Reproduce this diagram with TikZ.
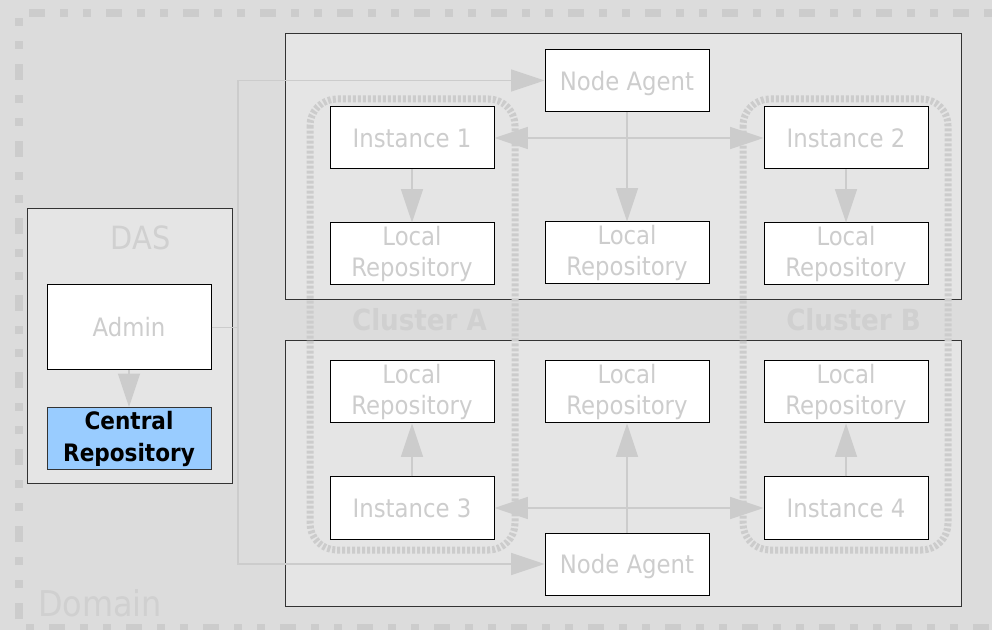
\documentclass[tikz,border=0pt]{standalone}
\usepackage{fontspec}
\setmainfont{DejaVuSansCondensed}[Extension=.ttf, BoldFont=DejaVuSansCondensed-Bold]
\usetikzlibrary{arrows.meta, positioning}
\definecolor{outergray}{HTML}{DCDCDC}
\definecolor{innergray}{HTML}{E5E5E5}
\definecolor{textgray}{HTML}{CDCDCD}
\definecolor{labelgray}{HTML}{D0D0D0}
\definecolor{linegray}{HTML}{CCCCCC}
\definecolor{framegray}{HTML}{333333}
\definecolor{repoblue}{HTML}{99CCFF}
\tikzstyle{box} = [draw=black, line width=0.75pt, fill=white, minimum width=123pt, minimum height=46.5pt, inner sep=0pt, align=center, text=textgray, font=\fontsize{19}{23.25}\selectfont]
\tikzstyle{machine} = [draw=framegray, line width=0.75pt, fill=innergray, inner sep=0pt]
\tikzstyle{cluster} = [draw=linegray, line width=5.25pt, dash pattern=on 2.25pt off 1.5pt, rounded corners=20pt]
\tikzstyle{arrow} = [draw=linegray, line width=1pt, -{Triangle[length=25pt,width=16.5pt,fill=linegray]}]
\tikzstyle{biarrow} = [draw=linegray, line width=1pt, {Triangle[length=25pt,width=16.5pt,fill=linegray]}-{Triangle[length=25pt,width=16.5pt,fill=linegray]}]
\tikzstyle{bigtext} = [text=labelgray, inner sep=0pt]

\begin{document}
\begin{tikzpicture}[x=0.75pt, y=-0.75pt]
        \useasboundingbox (0,0) rectangle (992,630);
        \clip (0,0) rectangle (992,630);
        \fill[outergray] (0,0) rectangle (992,630);

        % Domain
        \draw[linegray, line width=6pt, dash pattern=on 12pt off 11.25pt on 6pt off 11.25pt on 6pt off 11.25pt, dash phase=51pt] (19,628) rectangle (1010,13);
        \node[bigtext, anchor=west, font=\fontsize{26.6}{30}\selectfont] (domain) at (38,603.5) {Domain};

        % Machines
        \node[machine, minimum width=153.75pt, minimum height=206.25pt] (das) at (129.5,346.5) {};
        \node[bigtext, font=\fontsize{24}{28}\selectfont] (daslabel) at (140.5,238) {DAS};
        \node[machine, minimum width=507pt, minimum height=199.5pt] (hosta) at (623,167) {};
        \node[machine, minimum width=507pt, minimum height=198.75pt] (hostb) at (623,473.5) {};

        % Clusters
        \draw[cluster] (310,99) rectangle (515,550);
        \draw[cluster] (743,99) rectangle (948,550);
        \node[bigtext, font=\bfseries\fontsize{21.8}{26}\selectfont] (clustera) at (419.5,319.5) {Cluster A};
        \node[bigtext, font=\bfseries\fontsize{21.8}{26}\selectfont] (clusterb) at (853.5,319.5) {Cluster B};

        % DAS content
        \node[box, minimum height=63.75pt] (admin) at (129,327.5) {Admin};
        \node[box, draw=framegray, fill=repoblue, text=black, font=\bfseries\fontsize{18}{24}\selectfont] (central) at (129,438.5) {Central\\Repository};

        % Upper host
        \node[box, text depth=0pt] (na1) at (627,80.5) {Node Agent};
        \node[box] (inst1) at (412,138) {Instance 1};
        \node[box, below=39.75pt of inst1] (lr1) {Local\\Repository};
        \node[box] (inst2) at (846,138) {Instance 2};
        \node[box, below=39.75pt of inst2] (lr2) {Local\\Repository};
        \node[box] (lrna1) at (627,253) {Local\\Repository};

        % Lower host
        \node[box] (lr3) at (412,392) {Local\\Repository};
        \node[box, below=39.75pt of lr3] (inst3) {Instance 3};
        \node[box] (lr4) at (846,392) {Local\\Repository};
        \node[box, below=39.75pt of lr4] (inst4) {Instance 4};
        \node[box] (lrna2) at (627,392) {Local\\Repository};
        \node[box, text depth=0pt] (na2) at (627,564) {Node Agent};

        % Arrows
        \coordinate (bus) at (238,327.5);
        \draw[linegray, line width=1pt] (admin.east) -- (bus);
        \draw[arrow] (bus) |- (na1.west);
        \draw[arrow] (bus) |- (na2.west);
        \draw[arrow] (admin) -- (central);
        \draw[arrow] (inst1) -- (lr1);
        \draw[arrow] (inst2) -- (lr2);
        \draw[arrow] (na1) -- (lrna1);
        \draw[biarrow] (inst1) -- (inst2);
        \draw[arrow] (inst3) -- (lr3);
        \draw[arrow] (inst4) -- (lr4);
        \draw[arrow] (na2) -- (lrna2);
        \draw[biarrow] (inst3) -- (inst4);
\end{tikzpicture}
\end{document}
